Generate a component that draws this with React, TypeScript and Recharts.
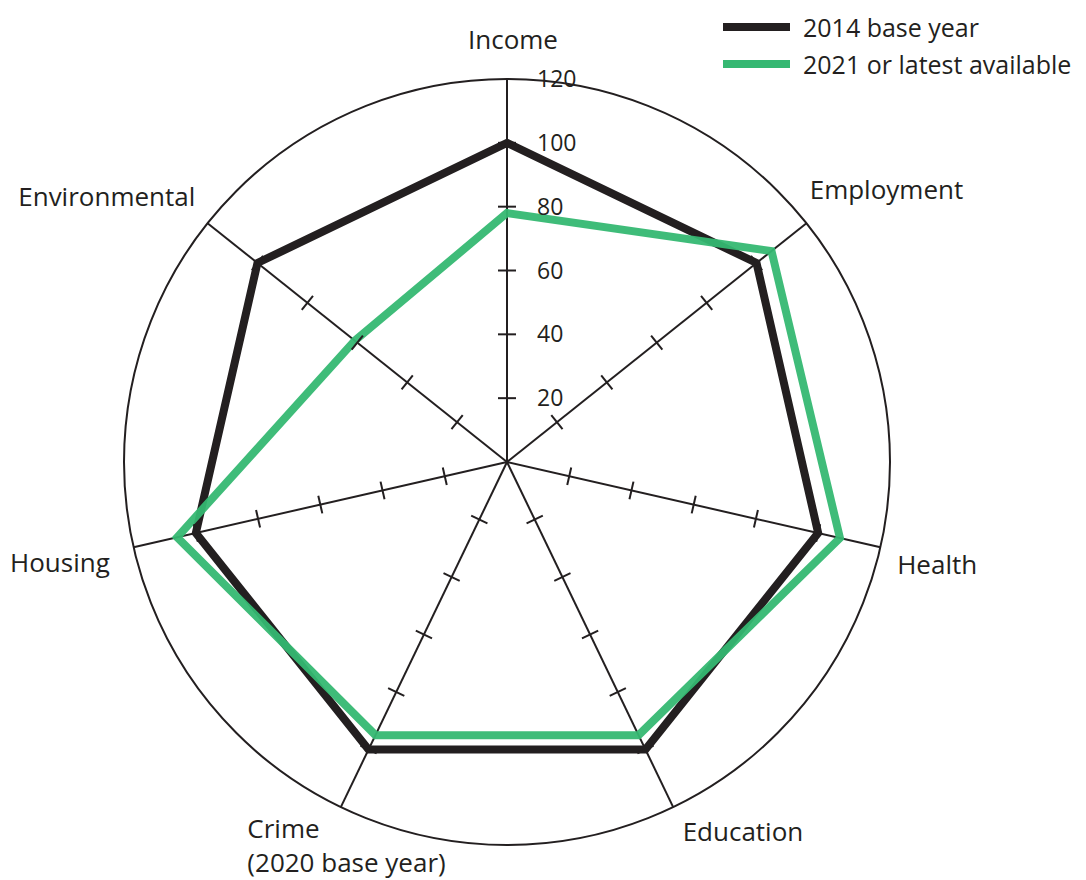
import { RadarChart, Radar, PolarGrid, PolarAngleAxis, PolarRadiusAxis, Legend } from 'recharts'

const CATEGORIES = ['Income', 'Employment', 'Health', 'Education', 'Crime\n(2020 base year)', 'Housing', 'Environmental']
const BASE_2014 = [100, 100, 100, 100, 100, 100, 100]
const LATEST = [78, 106, 107, 95, 95, 106, 61]
const RADIUS_TICKS = [20, 40, 60, 80, 100, 120]

const SERIES = [
  { key: 'base', name: '2014 base year', color: '#231f20' },
  { key: 'latest', name: '2021 or latest available', color: '#35b872' },
]

const data = CATEGORIES.map((subject, i) => ({ subject, base: BASE_2014[i], latest: LATEST[i] }))

const W = 1070
const H = 872
const CX = 499
const CY = 454
const R = 383
const FONT = '"Open Sans", sans-serif'
const INK = '#231f20'
const LABEL_SIZE = 26

// label offsets from the default tick point (outerRadius + 8)
const LABEL_POS: { dx: number; dy: number; anchor: 'start' | 'middle' | 'end' }[] = [
  { dx: 6, dy: -31, anchor: 'middle' },
  { dx: -3, dy: -28, anchor: 'start' },
  { dx: 9, dy: 16, anchor: 'start' },
  { dx: 6, dy: 18, anchor: 'start' },
  { dx: -90, dy: 15, anchor: 'start' },
  { dx: -16, dy: 14, anchor: 'end' },
  { dx: -6, dy: -21, anchor: 'end' },
]

function AngleTick(props: any) {
  const { x, y, payload, index } = props
  const p = LABEL_POS[index] || { dx: 0, dy: 0, anchor: 'middle' }
  const lines = String(payload.value).split('\n')
  return (
    <text x={x + p.dx} y={y + p.dy} textAnchor={p.anchor} fontSize={LABEL_SIZE} fill={INK} fontFamily={FONT}>
      {lines.map((l, k) => (
        <tspan key={k} x={x + p.dx} dy={k === 0 ? '0.35em' : 34}>{l}</tspan>
      ))}
    </text>
  )
}

function RadiusTick(props: any) {
  const { x, y, payload } = props
  const r = Math.hypot(x - CX, y - CY)
  const marks = []
  if (payload.value < 120) {
    for (let i = 0; i < CATEGORIES.length; i++) {
      const a = ((90 - (i * 360) / CATEGORIES.length) * Math.PI) / 180
      const px = CX + r * Math.cos(a)
      const py = CY - r * Math.sin(a)
      const ux = Math.sin(a) * 9
      const uy = Math.cos(a) * 9
      marks.push(<line key={i} x1={px - ux} y1={py - uy} x2={px + ux} y2={py + uy} stroke={INK} strokeWidth={2} />)
    }
  }
  return (
    <g>
      {marks}
      <text x={x + 30} y={y} dy="0.35em" textAnchor="start" fontSize={23} fill={INK} fontFamily={FONT}>
        {payload.value}
      </text>
    </g>
  )
}

function LegendBox() {
  return (
    <div style={{ fontFamily: FONT, fontSize: 25, color: INK, whiteSpace: 'nowrap' }}>
      {SERIES.map((s) => (
        <div key={s.key} style={{ display: 'flex', alignItems: 'center', height: 37 }}>
          <span style={{ display: 'inline-block', width: 67, height: 8, background: s.color, marginRight: 13 }} />
          <span>{s.name}</span>
        </div>
      ))}
    </div>
  )
}

export default function App() {
  return (
    <div style={{ width: W, height: H, position: 'relative' }}>
      <RadarChart width={W} height={H} data={data} cx={CX} cy={CY} outerRadius={R} startAngle={90} endAngle={-270}>
        <PolarGrid gridType="circle" polarRadius={[R]} stroke={INK} strokeWidth={2} strokeOpacity={1} />
        <PolarAngleAxis dataKey="subject" tick={AngleTick} tickLine={false} axisLine={false} />
        <PolarRadiusAxis
          angle={90}
          domain={[0, 120]}
          ticks={RADIUS_TICKS}
          tickCount={7}
          axisLine={false}
          tick={RadiusTick}
        />
        <Radar
          dataKey="base"
          name={SERIES[0].name}
          stroke={SERIES[0].color}
          strokeWidth={8}
          strokeLinejoin="miter"
          fill="none"
          fillOpacity={0}
          isAnimationActive={false}
        />
        <Radar
          dataKey="latest"
          name={SERIES[1].name}
          stroke={SERIES[1].color}
          strokeWidth={8}
          strokeOpacity={0.95}
          strokeLinejoin="miter"
          fill="none"
          fillOpacity={0}
          isAnimationActive={false}
        />
        <Legend content={LegendBox} wrapperStyle={{ position: 'absolute', top: 0, left: 715, width: 360 }} />
      </RadarChart>
    </div>
  )
}
